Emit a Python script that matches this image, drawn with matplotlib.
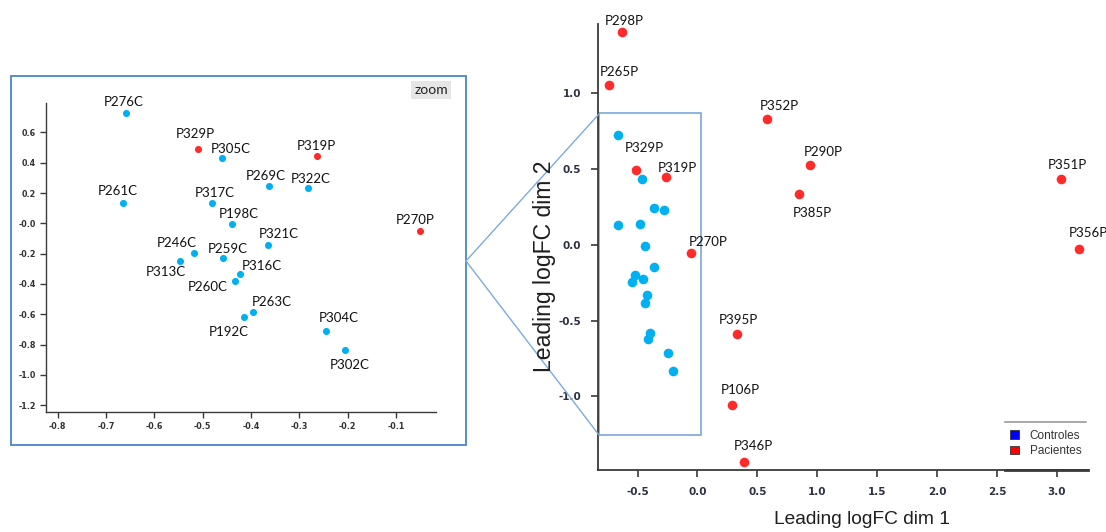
import matplotlib
matplotlib.use("Agg")
import matplotlib.pyplot as plt
from matplotlib.patches import Rectangle, Patch
from matplotlib.lines import Line2D

# ---------------- data ----------------
control_names = ["P276C", "P305C", "P269C", "P322C", "P261C", "P317C", "P198C",
                 "P321C", "P246C", "P259C", "P313C", "P316C", "P260C", "P263C",
                 "P192C", "P304C", "P302C"]
control_x = [-0.659, -0.461, -0.363, -0.281, -0.665, -0.481, -0.439,
             -0.365, -0.517, -0.457, -0.546, -0.423, -0.434, -0.395,
             -0.415, -0.245, -0.206]
control_y = [0.726, 0.433, 0.244, 0.231, 0.132, 0.134, -0.007,
             -0.145, -0.198, -0.227, -0.246, -0.334, -0.381, -0.583,
             -0.620, -0.711, -0.834]

patient_names = ["P298P", "P265P", "P352P", "P290P", "P385P", "P351P", "P356P",
                 "P270P", "P395P", "P106P", "P346P", "P329P", "P319P"]
patient_x = [-0.632, -0.742, 0.577, 0.939, 0.847, 3.034, 3.187,
             -0.050, 0.328, 0.288, 0.387, -0.509, -0.263]
patient_y = [1.399, 1.050, 0.827, 0.525, 0.335, 0.436, -0.025,
             -0.053, -0.588, -1.059, -1.432, 0.491, 0.447]

main_xticks = [-0.5, 0.0, 0.5, 1.0, 1.5, 2.0, 2.5, 3.0]
main_xticklabels = ["-0.5", "0.0", "0.5", "1.0", "1.5", "2.0", "2.5", "3.0"]
main_yticks = [-1.0, -0.5, 0.0, 0.5, 1.0]
main_yticklabels = ["-1.0", "-0.5", "0.0", "0.5", "1.0"]

zoom_xticks = [-0.8, -0.7, -0.6, -0.5, -0.4, -0.3, -0.2, -0.1]
zoom_xticklabels = ["-0.8", "-0.7", "-0.6", "-0.5", "-0.4", "-0.3", "-0.2", "-0.1"]
zoom_yticks = [0.6, 0.4, 0.2, 0.0, -0.2, -0.4, -0.6, -0.8, -1.0, -1.2]
zoom_yticklabels = ["0.6", "0.4", "0.2", "-0.0", "-0.2", "-0.4", "-0.6", "-0.8", "-1.0", "-1.2"]

legend_labels = ["Controles", "Pacientes"]

# ---------------- style ----------------
C_CTRL = "#00b0f0"
C_PAT = "#ff2a2a"
FRAME = "#4a86c5"
LABEL_FONT = "Lato"

W, H = 1106, 532
fig = plt.figure(figsize=(W / 100, H / 100), dpi=100)


def fx(px):
    return px / W


def fy(py):
    return 1 - py / H


# ---------------- main axes ----------------
ax = fig.add_axes([fx(598), fy(470), fx(1088) - fx(598), fy(24) - fy(470)])
ax.set_xlim(-0.83, 3.26)
ax.set_ylim(-1.485, 1.455)
for s in ["top", "right"]:
    ax.spines[s].set_visible(False)
for s in ["left", "bottom"]:
    ax.spines[s].set_color("#3a3a3a")
    ax.spines[s].set_linewidth(1.3)
ax.set_xticks(main_xticks)
ax.set_xticklabels(main_xticklabels)
ax.set_yticks(main_yticks)
ax.set_yticklabels(main_yticklabels)
ax.tick_params(direction="out", length=5, width=1.2, color="#3a3a3a",
               labelsize=7.5, labelcolor="#2c3040", pad=7)
for t in ax.get_xticklabels() + ax.get_yticklabels():
    t.set_fontweight("bold")

ax.scatter(control_x, control_y, s=48, color=C_CTRL, zorder=3, linewidths=0)
ax.scatter(patient_x, patient_y, s=48, color=C_PAT, zorder=3, linewidths=0)

main_offsets = {
    "P298P": (3, 11.5), "P265P": (11, 13.5), "P352P": (12.5, 13.5),
    "P290P": (13.6, 13.2), "P385P": (13, -19), "P351P": (6, 13.5),
    "P356P": (9, 16), "P270P": (17, 10.5), "P395P": (1.5, 13.5),
    "P106P": (8.5, 15.6), "P346P": (9.6, 15.6), "P329P": (7.7, 22),
    "P319P": (11.8, 8.8),
}
for n, x, y in zip(patient_names, patient_x, patient_y):
    dx, dy = main_offsets[n]
    ax.annotate(n, (x, y), xytext=(dx, dy), textcoords="offset pixels",
                ha="center", va="center", fontsize=9.5, family=LABEL_FONT,
                color="#111111", annotation_clip=False, zorder=4)

# zoom rectangle in main
ax.add_patch(Rectangle((-0.825, -1.254), 0.031 + 0.825, 0.871 + 1.254,
                       fill=False, edgecolor="#6fa0d6", linewidth=1.1, zorder=2))

# legend
handles = [Patch(facecolor="#0000ff", edgecolor="#333333", linewidth=0.6),
           Patch(facecolor="#ff0000", edgecolor="#333333", linewidth=0.6)]
leg = ax.legend(handles, legend_labels, loc="lower right",
                bbox_to_anchor=(fx(1086), fy(462)), bbox_transform=fig.transFigure,
                frameon=False, fontsize=8, handlelength=0.75, handleheight=0.75,
                handletextpad=0.9, labelspacing=0.3, borderaxespad=0,
                prop={"family": ["Liberation Sans Narrow", "Liberation Sans"], "size": 8.5})
for t in leg.get_texts():
    t.set_color("#333333")
fig.add_artist(Line2D([fx(1005), fx(1086)], [fy(422), fy(422)], color="#9a9a9a", lw=1.2))
fig.add_artist(Line2D([fx(1005), fx(1088)], [fy(469.5), fy(469.5)], color="#3a3a3a", lw=2))

# axis labels
fig.text(fx(862), fy(520), "Leading logFC dim 1", ha="center", va="center",
         fontsize=13.8, family="Liberation Sans", color="#1e1e1e")
fig.text(fx(545), fy(266), "Leading logFC dim 2", ha="center", va="center",
         rotation=90, fontsize=16.6, family="Liberation Sans", color="#1e1e1e")

# ---------------- inset (zoom) ----------------
fig.add_artist(Rectangle((fx(10.5), fy(445)), fx(466) - fx(10.5), fy(75.5) - fy(445),
                         transform=fig.transFigure, fill=False,
                         edgecolor=FRAME, linewidth=1.3))
# connectors
fig.add_artist(Line2D([fx(466), fx(599)], [fy(261), fy(114)], color="#7eaadd", lw=1.0))
fig.add_artist(Line2D([fx(466), fx(599)], [fy(261), fy(435)], color="#7eaadd", lw=1.0))

axz = fig.add_axes([fx(45.7), fy(412), fx(436) - fx(45.7), fy(103) - fy(412)])
axz.set_xlim(-0.825, -0.017)
axz.set_ylim(-1.245, 0.794)
axz.patch.set_alpha(0)
for s in ["top", "right"]:
    axz.spines[s].set_visible(False)
for s in ["left", "bottom"]:
    axz.spines[s].set_color("#3a3a3a")
    axz.spines[s].set_linewidth(1.0)
axz.set_xticks(zoom_xticks)
axz.set_xticklabels(zoom_xticklabels)
axz.set_yticks(zoom_yticks)
axz.set_yticklabels(zoom_yticklabels)
axz.tick_params(direction="out", length=4, width=1.0, color="#3a3a3a",
                labelsize=5.8, labelcolor="#333333", pad=3)
for t in axz.get_xticklabels() + axz.get_yticklabels():
    t.set_fontweight("bold")

axz.scatter(control_x, control_y, s=26, color=C_CTRL, zorder=3, linewidths=0)
axz.scatter(patient_x, patient_y, s=26, color=C_PAT, zorder=3, linewidths=0, clip_on=True)

zoom_offsets = {
    "P276C": (-2.3, 11.3), "P329P": (-3, 14.7), "P305C": (9.3, 8.7),
    "P319P": (-0.7, 9.3), "P269C": (-3.3, 10), "P322C": (2.7, 9.3),
    "P261C": (-5, 12.3), "P317C": (2.7, 10), "P198C": (7, 10),
    "P270P": (-5, 11.7), "P321C": (10.7, 11), "P246C": (-18, 10.3),
    "P259C": (4, 9), "P313C": (-14.7, -11.7), "P316C": (22.3, 8.3),
    "P260C": (-27, -5.7), "P263C": (18.7, 10), "P192C": (-15, -15),
    "P304C": (13, 12.7), "P302C": (4.7, -15.3),
}
x0, x1 = axz.get_xlim()
y0, y1 = axz.get_ylim()
for n, x, y in list(zip(control_names, control_x, control_y)) + \
        list(zip(patient_names, patient_x, patient_y)):
    if not (x0 <= x <= x1 and y0 <= y <= y1):
        continue
    dx, dy = zoom_offsets[n]
    axz.annotate(n, (x, y), xytext=(dx, dy), textcoords="offset pixels",
                 ha="center", va="center", fontsize=9.5, family=LABEL_FONT,
                 color="#111111", annotation_clip=False, zorder=4)

fig.text(fx(431), fy(90), "zoom", ha="center", va="center", fontsize=10,
         family=LABEL_FONT, color="#222222",
         bbox=dict(boxstyle="square,pad=0.25", facecolor="#e6e6e6", edgecolor="none"))

fig.savefig("out.png", dpi=100)
